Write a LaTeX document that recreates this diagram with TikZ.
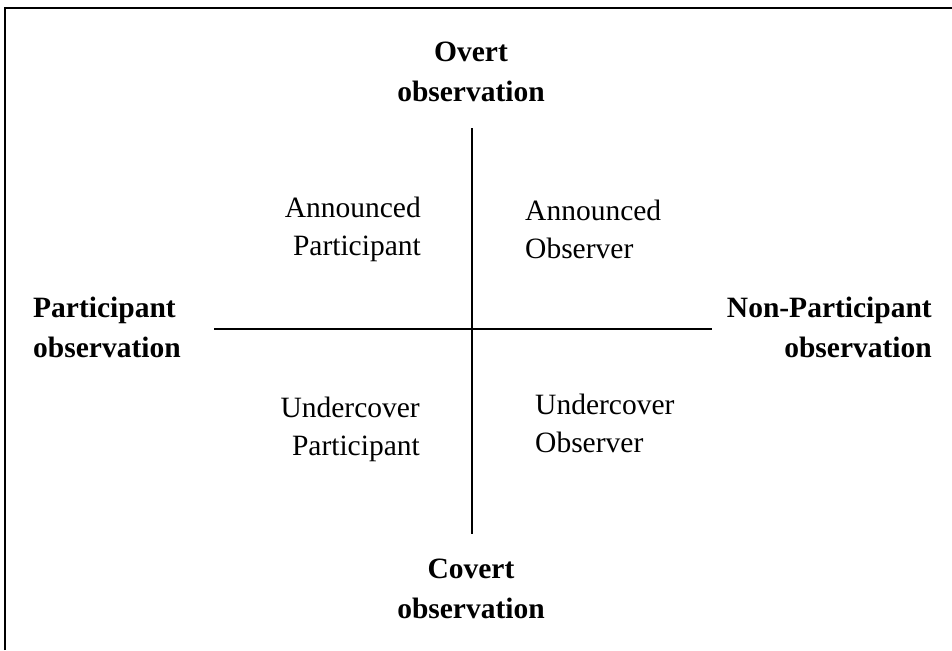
\documentclass[tikz,border=0pt]{standalone}
\usepackage{fontspec}
\setmainfont{Liberation Serif}
\usepackage{tikz}

\tikzset{
  mainlabel/.style={inner sep=0pt,font=\fontsize{29.5}{40}\selectfont\bfseries},
  cell/.style={inner sep=0pt,font=\fontsize{29.5}{38}\selectfont}
}

\begin{document}
\begin{tikzpicture}[x=1pt,y=-1pt]
    \useasboundingbox (0,0) rectangle (952,650);
    % frame, only top and left edge show
    \draw[line width=1.6pt] (5,650) -- (5,8) -- (952,8);
    % axes
    \coordinate (ytop) at (472,128);
    \coordinate (ybot) at (472,534);
    \coordinate (xleft) at (214,329);
    \coordinate (xright) at (712,329);
    \draw[line width=1.3pt] (ytop) -- (ybot);
    \draw[line width=1.3pt] (xleft) -- (xright);
    % axis labels (base = last line)
    \node[mainlabel,anchor=base,align=center] (overt) at (471,102) {Overt\\observation};
    \node[mainlabel,anchor=base,align=center] (covert) at (471,618) {Covert\\observation};
    \node[mainlabel,anchor=base west,align=left] (partobs) at (33,357) {Participant\\observation};
    \node[mainlabel,anchor=base east,align=right] (nonpartobs) at (932,357) {Non-Participant\\observation};
    % quadrants
    \node[cell,anchor=base east,align=right] (annpart) at (421,255) {Announced\\Participant};
    \node[cell,anchor=base west,align=left] (annobs) at (525,258) {Announced\\Observer};
    \node[cell,anchor=base east,align=right] (undpart) at (420,455) {Undercover\\Participant};
    \node[cell,anchor=base west,align=left] (undobs) at (535,452) {Undercover\\Observer};
\end{tikzpicture}
\end{document}
